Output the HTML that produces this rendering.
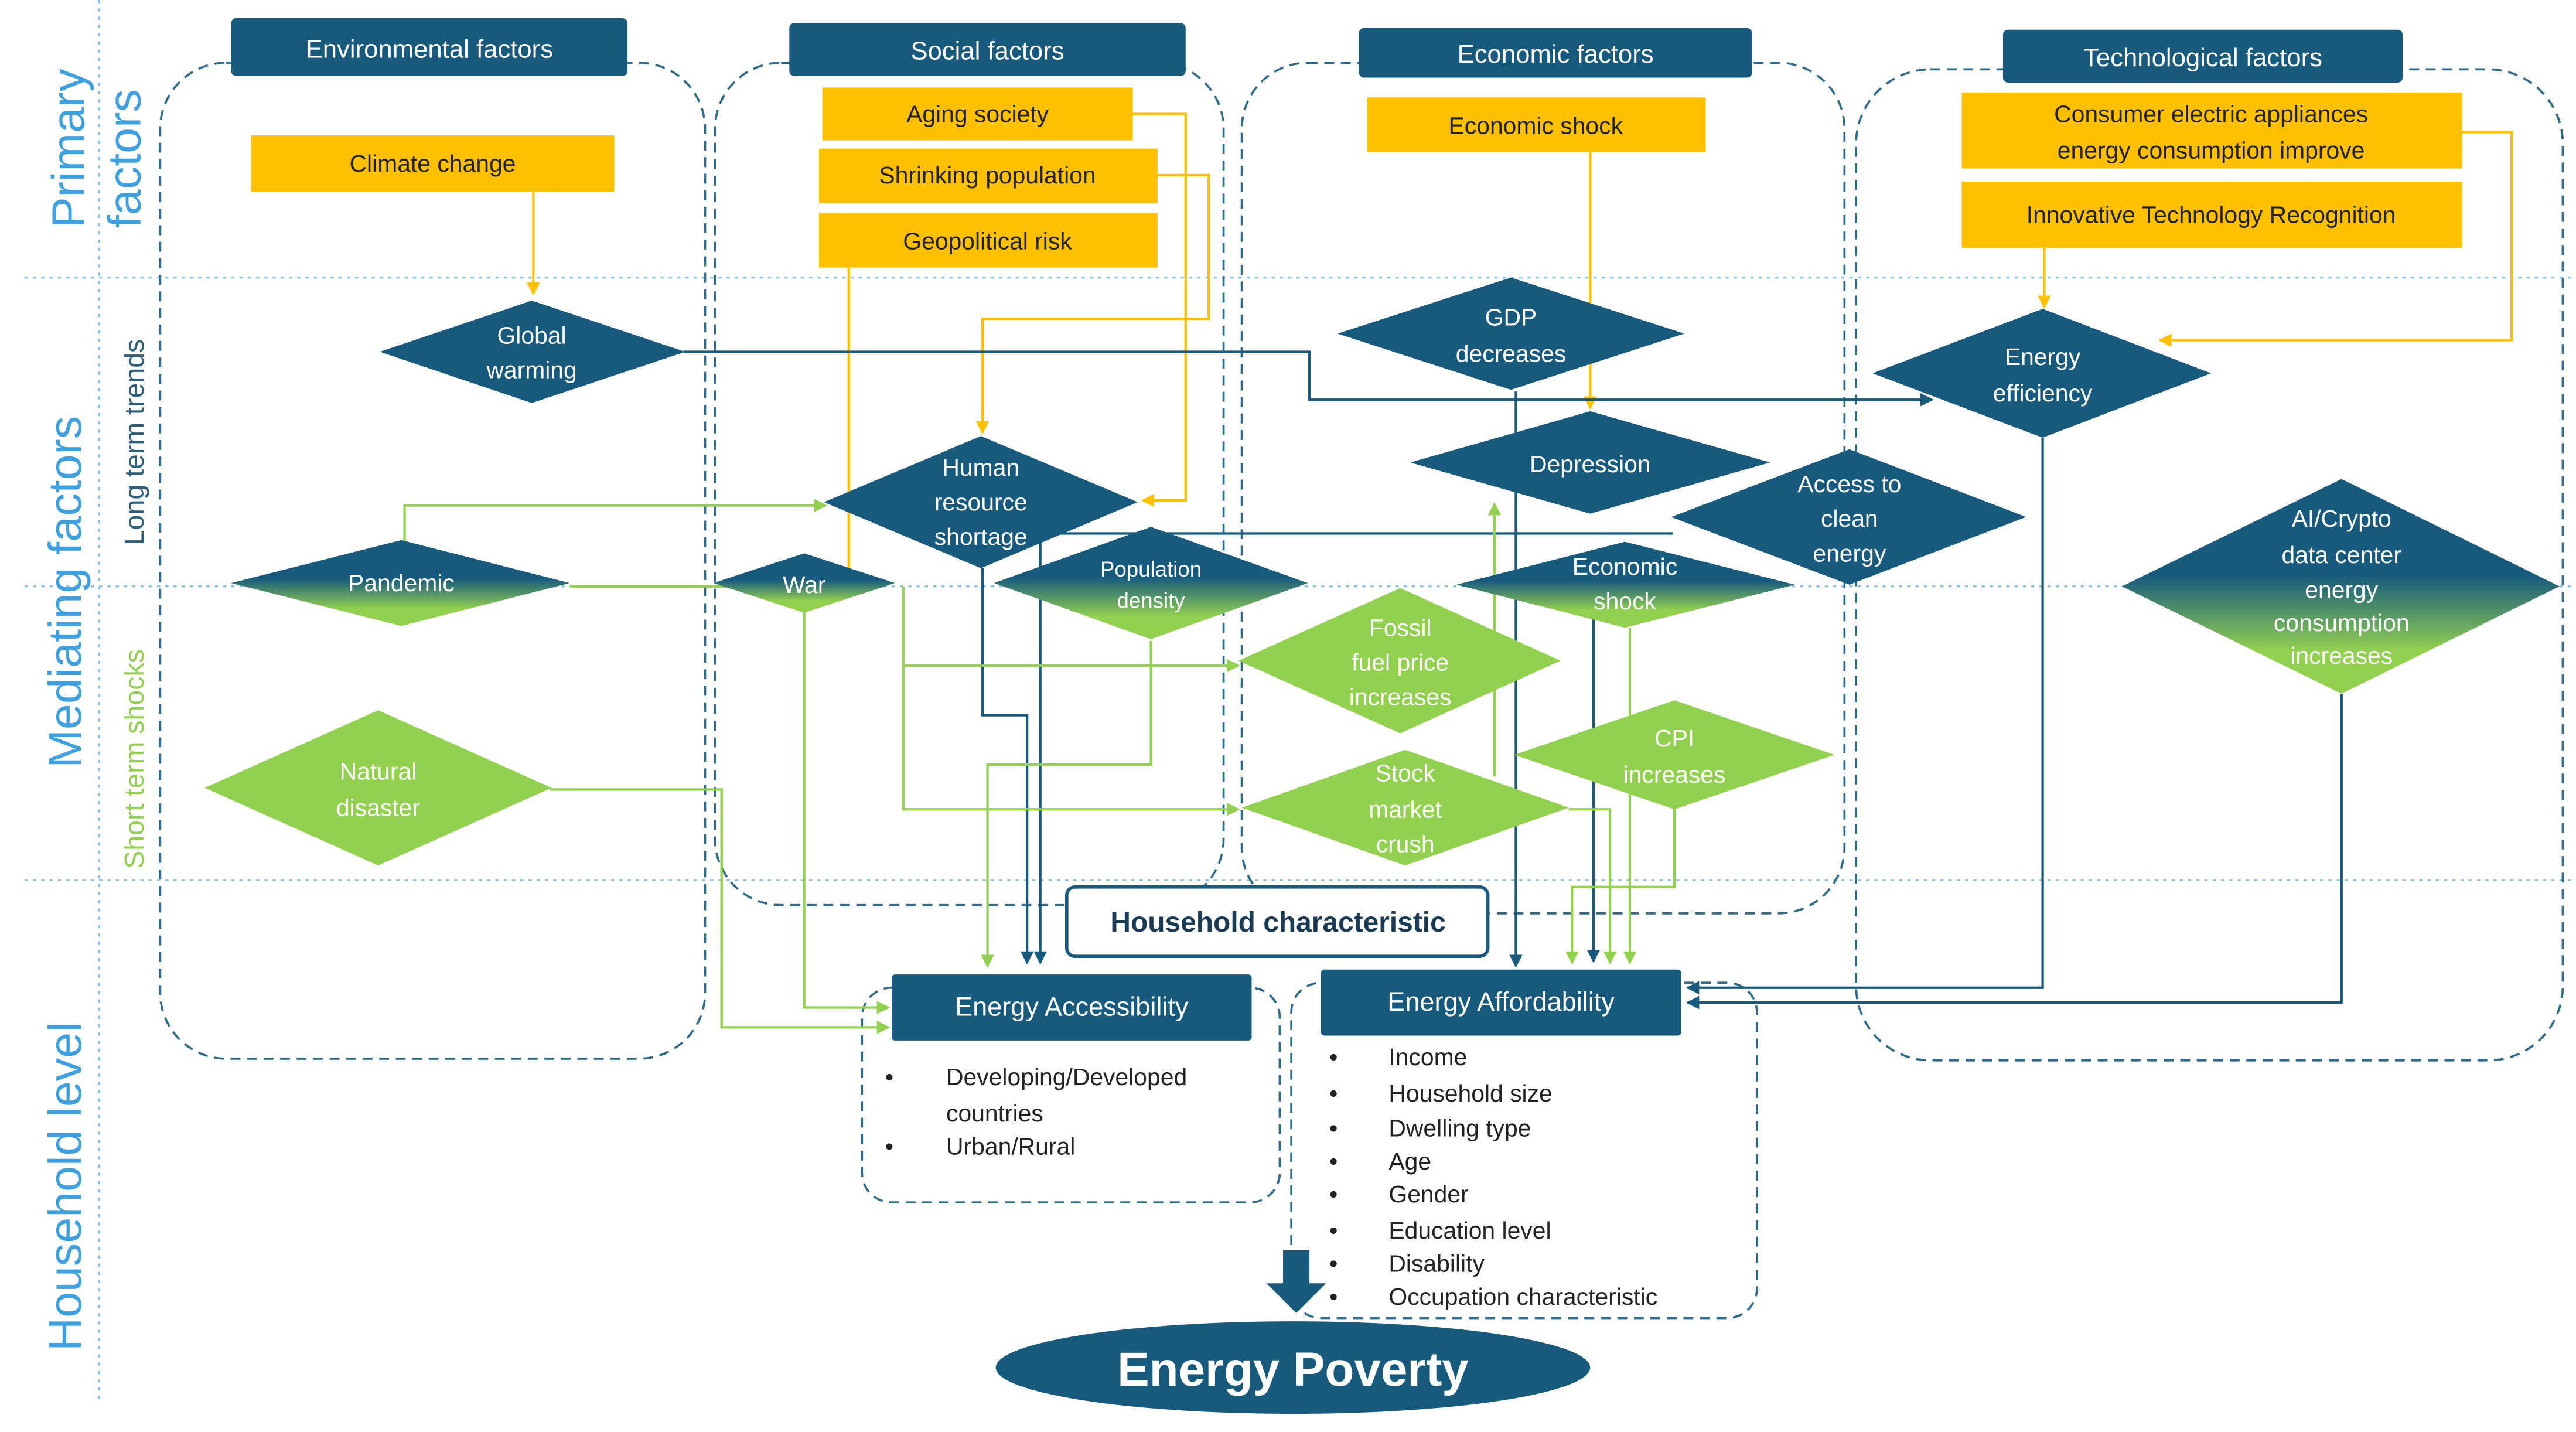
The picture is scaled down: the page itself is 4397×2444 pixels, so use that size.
<!DOCTYPE html>
<html><head><meta charset="utf-8">
<style>
html,body{margin:0;padding:0;background:#fff;}
svg{display:block;}
text{font-family:"Liberation Sans",sans-serif;}
</style></head>
<body>
<svg width="4397" height="2444" viewBox="0 0 1560 867" preserveAspectRatio="none" xmlns="http://www.w3.org/2000/svg">
<defs>
<linearGradient id="g" x1="0" y1="0" x2="0" y2="1">
<stop offset="0" stop-color="#185a7d"/><stop offset="0.45" stop-color="#185a7d"/><stop offset="0.8" stop-color="#92d050"/><stop offset="1" stop-color="#92d050"/>
</linearGradient>
<marker id="ay" markerWidth="8" markerHeight="8" refX="7" refY="4" orient="auto" markerUnits="userSpaceOnUse"><path d="M0,0 L8,4 L0,8 z" fill="#ffc000"/></marker>
<marker id="ab" markerWidth="8" markerHeight="8" refX="7" refY="4" orient="auto" markerUnits="userSpaceOnUse"><path d="M0,0 L8,4 L0,8 z" fill="#185a7d"/></marker>
<marker id="ag" markerWidth="8" markerHeight="8" refX="7" refY="4" orient="auto" markerUnits="userSpaceOnUse"><path d="M0,0 L8,4 L0,8 z" fill="#92d050"/></marker>
</defs>

<g stroke="#8cc4e6" stroke-width="1.2" stroke-dasharray="2,3">
<line x1="15" y1="168" x2="1560" y2="168"/>
<line x1="15" y1="355" x2="1560" y2="355"/>
<line x1="15" y1="533" x2="1560" y2="533"/>
<line x1="60" y1="0" x2="60" y2="850"/>
</g>

<g fill="#3ea0de" font-size="28">
<text transform="translate(51,138) rotate(-90)">Primary</text>
<text transform="translate(85,138) rotate(-90)">factors</text>
<text transform="translate(49,465) rotate(-90)">Mediating factors</text>
<text transform="translate(49,818) rotate(-90)">Household level</text>
</g>
<text transform="translate(87,330) rotate(-90)" font-size="16.5" fill="#2e5f7a">Long term trends</text>
<text transform="translate(87,526) rotate(-90)" font-size="16.5" fill="#92d050">Short term shocks</text>

<g fill="none" stroke="#2e6b8a" stroke-width="1.3" stroke-dasharray="6,4">
<rect x="97" y="38" width="330" height="603" rx="40"/>
<rect x="433" y="38" width="308" height="510" rx="40"/>
<rect x="752" y="38" width="365" height="515" rx="40"/>
<rect x="1124" y="42" width="428" height="600" rx="45"/>
<rect x="522" y="598" width="253" height="130" rx="18"/>
<rect x="782" y="595" width="282" height="203" rx="18"/>
</g>

<g fill="#185a7d">
<rect x="140" y="11" width="240" height="35" rx="3"/>
<rect x="478" y="14" width="240" height="32" rx="3"/>
<rect x="823" y="17" width="238" height="30" rx="3"/>
<rect x="1213" y="18" width="242" height="32" rx="3"/>
</g>
<g fill="#fff" font-size="15.5" text-anchor="middle">
<text x="260" y="35">Environmental factors</text>
<text x="598" y="36">Social factors</text>
<text x="942" y="38">Economic factors</text>
<text x="1334" y="40">Technological factors</text>
</g>

<g fill="#ffc000">
<rect x="152" y="82" width="220" height="34"/>
<rect x="498" y="53" width="188" height="32"/>
<rect x="496" y="90" width="205" height="33"/>
<rect x="496" y="129" width="205" height="33"/>
<rect x="828" y="59" width="205" height="33"/>
<rect x="1188" y="56" width="303" height="46"/>
<rect x="1188" y="110" width="303" height="40"/>
</g>
<g fill="#222" font-size="14.5" text-anchor="middle">
<text x="262" y="104">Climate change</text>
<text x="592" y="74">Aging society</text>
<text x="598" y="111">Shrinking population</text>
<text x="598" y="151">Geopolitical risk</text>
<text x="930" y="81">Economic shock</text>
<text x="1339" y="74">Consumer electric appliances</text>
<text x="1339" y="96">energy consumption improve</text>
<text x="1339" y="135">Innovative Technology Recognition</text>
</g>

<g fill="none" stroke="#ffc000" stroke-width="1.5">
<path d="M323,116 V178" marker-end="url(#ay)"/>
<path d="M686,69 H718 V303 H692" marker-end="url(#ay)"/>
<path d="M701,106 H732 V193 H595 V262" marker-end="url(#ay)"/>
<path d="M514,162 V345"/>
<path d="M963,92 V247" marker-end="url(#ay)"/>
<path d="M1491,80 H1521 V206 H1308" marker-end="url(#ay)"/>
<path d="M1238,150 V186" marker-end="url(#ay)"/>
</g>

<g fill="none" stroke="#185a7d" stroke-width="1.5">
<path d="M414,213 H793 V242 H1170" marker-end="url(#ab)"/>
<path d="M595,344 V433 H622 V583" marker-end="url(#ab)"/>
<path d="M1013,323 H630 V583" marker-end="url(#ab)"/>
<path d="M918,237 V585" marker-end="url(#ab)"/>
<path d="M965,375 V582" marker-end="url(#ab)"/>
<path d="M1237,265 V598 H1022" marker-end="url(#ab)"/>
<path d="M1418,420 V607 H1022" marker-end="url(#ab)"/>
</g>

<g fill="none" stroke="#92d050" stroke-width="1.5">
<path d="M245,330 V306 H500" marker-end="url(#ag)"/>
<path d="M345,355 H440"/>
<path d="M547,355 V403 H750" marker-end="url(#ag)"/>
<path d="M547,403 V490 H750" marker-end="url(#ag)"/>
<path d="M487,370 V610 H538" marker-end="url(#ag)"/>
<path d="M333,478 H437 V622 H538" marker-end="url(#ag)"/>
<path d="M697,388 V463 H598 V585" marker-end="url(#ag)"/>
<path d="M905,470 V305" marker-end="url(#ag)"/>
<path d="M950,490 H975 V583" marker-end="url(#ag)"/>
<path d="M1014,490 V537 H952 V583" marker-end="url(#ag)"/>
<path d="M987,380 V583" marker-end="url(#ag)"/>
</g>

<g fill="#185a7d">
<polygon points="230,213 322,182 415,213 322,244"/>
<polygon points="499,304 594,264 689,304 594,344"/>
<polygon points="810,202 915,168 1020,202 915,236"/>
<polygon points="854,280 963,249 1072,280 963,311"/>
<polygon points="1012,313 1120,272 1227,313 1120,354"/>
<polygon points="1134,226 1237,187 1339,226 1237,265"/>
</g>
<g fill="url(#g)">
<polygon points="140,353 243,327 345,353 243,379"/>
<polygon points="432,353 487,335 542,353 487,371"/>
<polygon points="602,353 697,319 792,353 697,387"/>
<polygon points="882,354 984,328 1087,354 984,380"/>
<polygon points="1285,355 1418,290 1550,355 1418,420"/>
</g>
<g fill="#92d050">
<polygon points="124,477 229,430 334,477 229,524"/>
<polygon points="750,400 848,356 945,400 848,444"/>
<polygon points="752,489 851,454 950,489 851,524"/>
<polygon points="917,457 1014,424 1111,457 1014,490"/>
</g>
<g fill="#fff" font-size="14.5" text-anchor="middle">
<text x="322" y="208">Global</text><text x="322" y="229">warming</text>
<text x="594" y="288">Human</text><text x="594" y="309">resource</text><text x="594" y="330">shortage</text>
<text x="915" y="197">GDP</text><text x="915" y="219">decreases</text>
<text x="963" y="286">Depression</text>
<text x="1120" y="298">Access to</text><text x="1120" y="319">clean</text><text x="1120" y="340">energy</text>
<text x="1237" y="221">Energy</text><text x="1237" y="243">efficiency</text>
<text x="243" y="358">Pandemic</text>
<text x="487" y="359">War</text>
<text x="697" y="349" font-size="13">Population</text><text x="697" y="368" font-size="13">density</text>
<text x="984" y="348">Economic</text><text x="984" y="369">shock</text>
<text x="1418" y="319">AI/Crypto</text><text x="1418" y="341">data center</text><text x="1418" y="362">energy</text><text x="1418" y="382">consumption</text><text x="1418" y="402">increases</text>
<text x="229" y="472">Natural</text><text x="229" y="494">disaster</text>
<text x="848" y="385">Fossil</text><text x="848" y="406">fuel price</text><text x="848" y="427">increases</text>
<text x="851" y="473">Stock</text><text x="851" y="495">market</text><text x="851" y="516">crush</text>
<text x="1014" y="452">CPI</text><text x="1014" y="474">increases</text>
</g>

<rect x="646" y="537" width="255" height="42" rx="5" fill="#fff" stroke="#185a7d" stroke-width="2"/>
<text x="774" y="564" font-size="17" font-weight="bold" fill="#1a3b55" text-anchor="middle">Household characteristic</text>
<rect x="540" y="590" width="218" height="40" rx="2" fill="#185a7d"/>
<rect x="800" y="587" width="218" height="40" rx="2" fill="#185a7d"/>
<text x="649" y="615" font-size="16" fill="#fff" text-anchor="middle">Energy Accessibility</text>
<text x="909" y="612" font-size="16" fill="#fff" text-anchor="middle">Energy Affordability</text>

<g font-size="14.5" fill="#222">
<text x="536" y="657">•</text><text x="573" y="657">Developing/Developed</text>
<text x="573" y="679">countries</text>
<text x="536" y="699">•</text><text x="573" y="699">Urban/Rural</text>
<text x="805" y="645">•</text><text x="841" y="645">Income</text>
<text x="805" y="667">•</text><text x="841" y="667">Household size</text>
<text x="805" y="688">•</text><text x="841" y="688">Dwelling type</text>
<text x="805" y="708">•</text><text x="841" y="708">Age</text>
<text x="805" y="728">•</text><text x="841" y="728">Gender</text>
<text x="805" y="750">•</text><text x="841" y="750">Education level</text>
<text x="805" y="770">•</text><text x="841" y="770">Disability</text>
<text x="805" y="790">•</text><text x="841" y="790">Occupation characteristic</text>
</g>

<polygon points="777,757 793,757 793,777 803,777 785,795 767,777 777,777" fill="#185a7d"/>
<ellipse cx="783" cy="828" rx="180" ry="28" fill="#185a7d"/>
<text x="783" y="839" font-size="29" font-weight="bold" fill="#fff" text-anchor="middle">Energy Poverty</text>
</svg>
</body></html>
